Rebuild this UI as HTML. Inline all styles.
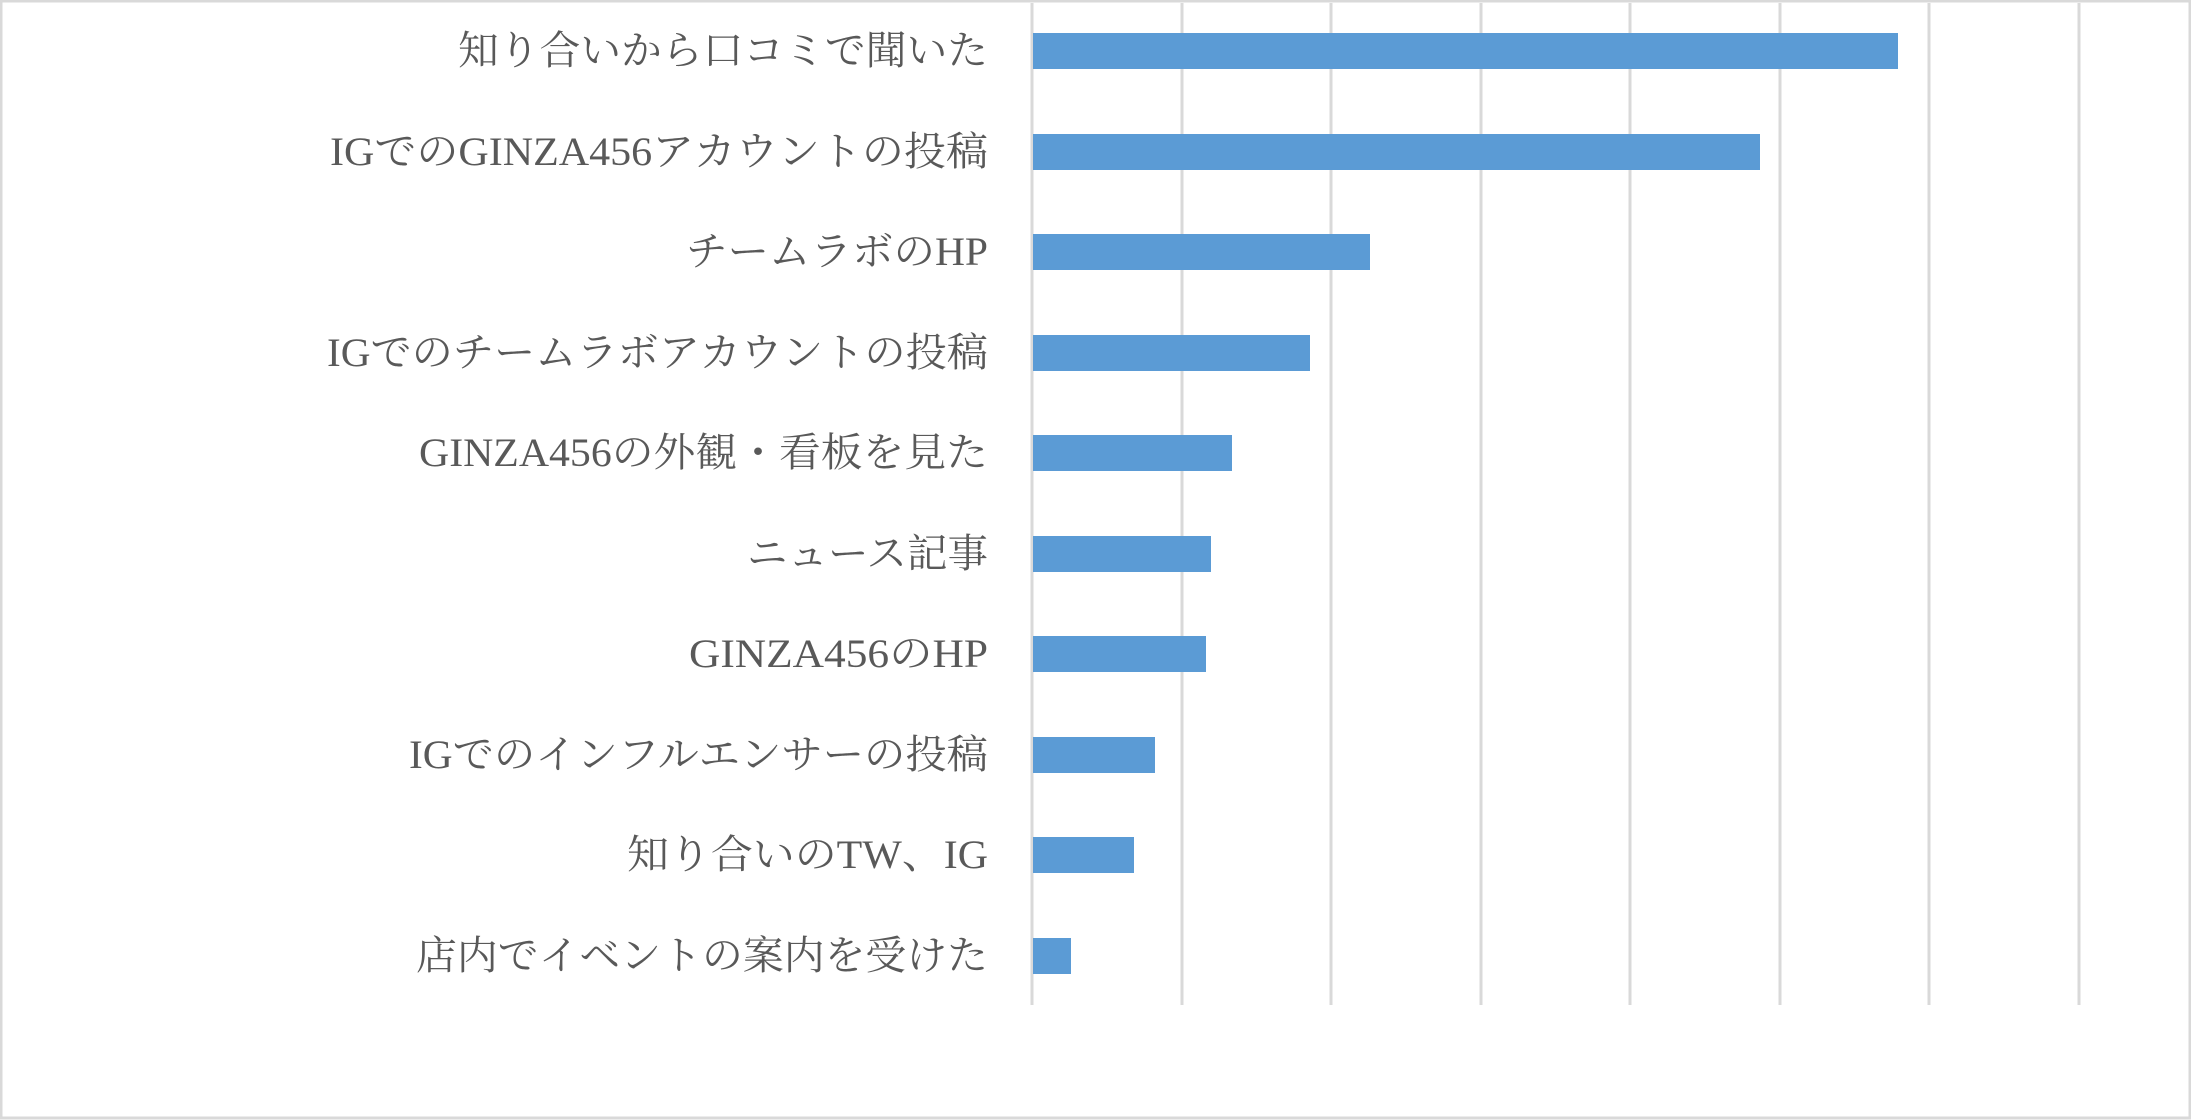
<!DOCTYPE html>
<html><head><meta charset="utf-8"><style>html,body{margin:0;padding:0;background:#fff}svg{display:block}</style></head>
<body>
<svg width="2191" height="1120" viewBox="0 0 2191 1120" xmlns="http://www.w3.org/2000/svg">
<rect x="1" y="1" width="2189" height="1117" fill="#fff" stroke="#d9d9d9" stroke-width="3"/>
<g stroke="#d9d9d9" stroke-width="3">
<line x1="1032" y1="3" x2="1032" y2="1005"/>
<line x1="1182" y1="3" x2="1182" y2="1005"/>
<line x1="1331" y1="3" x2="1331" y2="1005"/>
<line x1="1481" y1="3" x2="1481" y2="1005"/>
<line x1="1630" y1="3" x2="1630" y2="1005"/>
<line x1="1780" y1="3" x2="1780" y2="1005"/>
<line x1="1929" y1="3" x2="1929" y2="1005"/>
<line x1="2079" y1="3" x2="2079" y2="1005"/>
</g>
<g fill="#5b9bd5">
<rect x="1033" y="33" width="865" height="36"/>
<rect x="1033" y="134" width="727" height="36"/>
<rect x="1033" y="234" width="337" height="36"/>
<rect x="1033" y="335" width="277" height="36"/>
<rect x="1033" y="435" width="199" height="36"/>
<rect x="1033" y="536" width="178" height="36"/>
<rect x="1033" y="636" width="173" height="36"/>
<rect x="1033" y="737" width="122" height="36"/>
<rect x="1033" y="837" width="101" height="36"/>
<rect x="1033" y="938" width="38" height="36"/>
</g>
<g font-family="'Liberation Serif','Noto Serif CJK SC',serif" font-size="40" fill="#595959" text-anchor="end">
<text x="988" y="64" textLength="530" lengthAdjust="spacingAndGlyphs">知り合いから口コミで聞いた</text>
<text x="988" y="165" textLength="658" lengthAdjust="spacingAndGlyphs">IGでのGINZA456アカウントの投稿</text>
<text x="988" y="265" textLength="302" lengthAdjust="spacingAndGlyphs">チームラボのHP</text>
<text x="988" y="366" textLength="661" lengthAdjust="spacingAndGlyphs">IGでのチームラボアカウントの投稿</text>
<text x="988" y="466" textLength="569" lengthAdjust="spacingAndGlyphs">GINZA456の外観・看板を見た</text>
<text x="988" y="567" textLength="241" lengthAdjust="spacingAndGlyphs">ニュース記事</text>
<text x="988" y="667" textLength="299" lengthAdjust="spacingAndGlyphs">GINZA456のHP</text>
<text x="988" y="768" textLength="579" lengthAdjust="spacingAndGlyphs">IGでのインフルエンサーの投稿</text>
<text x="988" y="868" textLength="361" lengthAdjust="spacingAndGlyphs">知り合いのTW、IG</text>
<text x="988" y="969" textLength="572" lengthAdjust="spacingAndGlyphs">店内でイベントの案内を受けた</text>
</g>
</svg>
</body></html>
